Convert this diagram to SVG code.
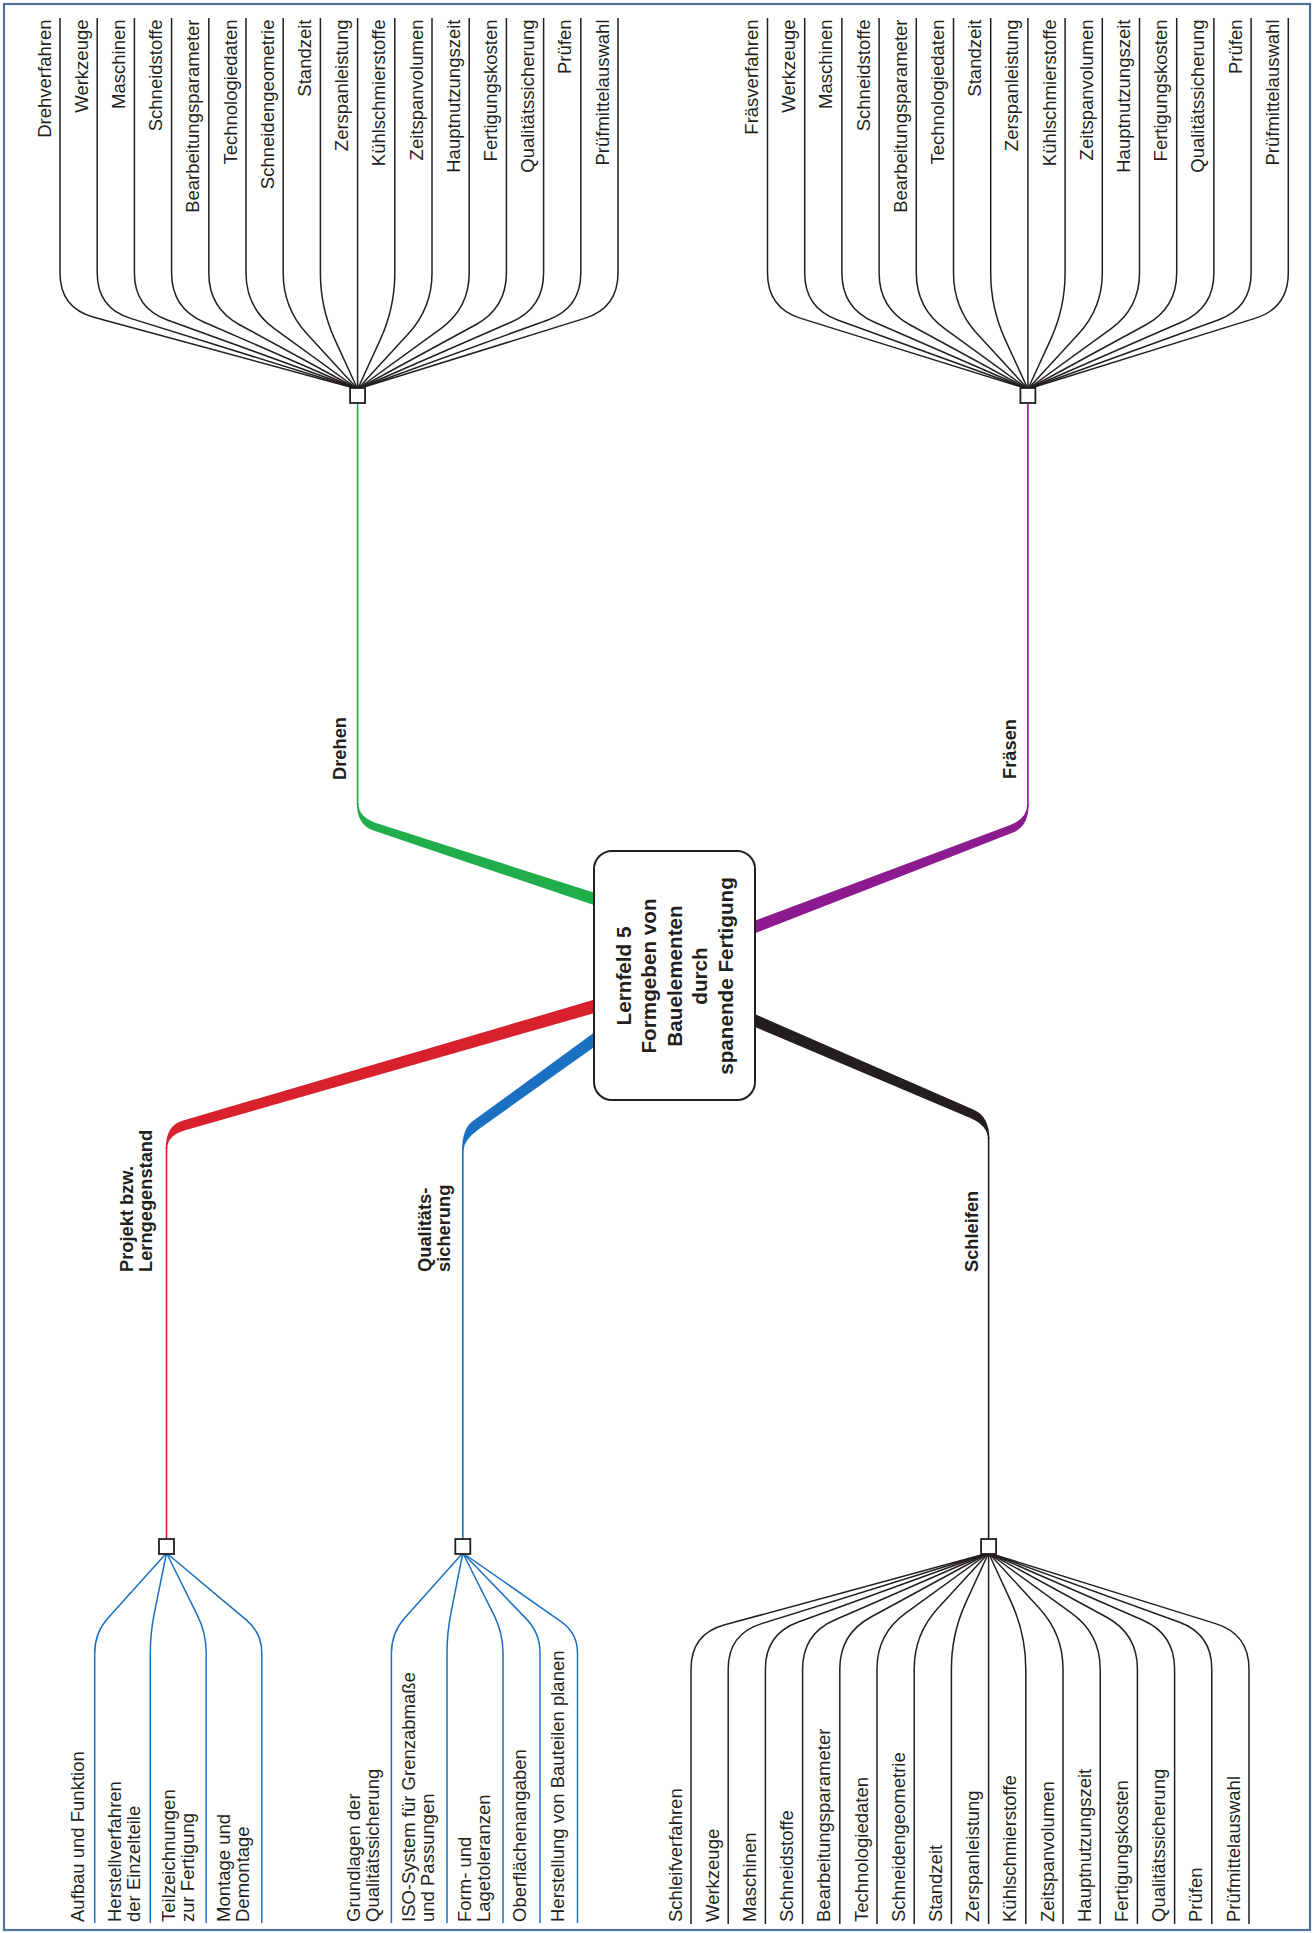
<svg xmlns="http://www.w3.org/2000/svg" width="1314" height="1933" viewBox="0 0 1314 1933">
<style>
.t{font-family:"Liberation Sans",Arial,Helvetica,sans-serif;font-size:18.5px;fill:#231f20}
.b{font-weight:bold;font-size:18.3px}
.c{font-family:"Liberation Sans",Arial,Helvetica,sans-serif;font-size:20.7px;font-weight:bold;fill:#231f20}
.ln{fill:none;stroke:#231f20;stroke-width:1.5}
.lb{fill:none;stroke:#1b70c1;stroke-width:1.5}
.hub{fill:#fff;stroke:#231f20;stroke-width:1.8}
</style>
<rect x="0" y="0" width="1314" height="1933" fill="#fff"/>
<rect x="4" y="4" width="1306" height="1926" fill="none" stroke="#50729a" stroke-width="2.2"/>
<g id="connectors">
  <g id="fan-drehen" class="ln">
    <path d="M60 18V273Q60 308 93.77 317.19L357.6 389"/>
    <path d="M97.2 18V273Q97.2 308 130.62 318.4L357.6 389"/>
    <path d="M134.4 18V273Q134.4 308 167.31 319.94L357.6 389"/>
    <path d="M171.6 18V273Q171.6 308 203.69 321.97L357.6 389"/>
    <path d="M208.8 18V273Q208.8 308 239.54 324.74L357.6 389"/>
    <path d="M246 18V273Q246 308 274.33 328.56L357.6 389"/>
    <path d="M283.2 18V273Q283.2 308 306.87 333.77L357.6 389"/>
    <path d="M320.4 18V273Q320.4 308 335.01 339.82L357.6 389"/>
    <path d="M357.6 18V389"/>
    <path d="M394.8 18V273Q394.8 308 380.19 339.82L357.6 389"/>
    <path d="M432 18V273Q432 308 408.33 333.77L357.6 389"/>
    <path d="M469.2 18V273Q469.2 308 440.87 328.56L357.6 389"/>
    <path d="M506.4 18V273Q506.4 308 475.66 324.74L357.6 389"/>
    <path d="M543.6 18V273Q543.6 308 511.51 321.97L357.6 389"/>
    <path d="M580.8 18V273Q580.8 308 547.89 319.94L357.6 389"/>
    <path d="M618 18V273Q618 308 584.58 318.4L357.6 389"/>
  </g>
  <g id="fan-fraesen" class="ln" transform="translate(670.3,0)">
    <path d="M97.2 18V273Q97.2 308 130.62 318.4L357.6 389"/>
    <path d="M134.4 18V273Q134.4 308 167.31 319.94L357.6 389"/>
    <path d="M171.6 18V273Q171.6 308 203.69 321.97L357.6 389"/>
    <path d="M208.8 18V273Q208.8 308 239.54 324.74L357.6 389"/>
    <path d="M246 18V273Q246 308 274.33 328.56L357.6 389"/>
    <path d="M283.2 18V273Q283.2 308 306.87 333.77L357.6 389"/>
    <path d="M320.4 18V273Q320.4 308 335.01 339.82L357.6 389"/>
    <path d="M357.6 18V389"/>
    <path d="M394.8 18V273Q394.8 308 380.19 339.82L357.6 389"/>
    <path d="M432 18V273Q432 308 408.33 333.77L357.6 389"/>
    <path d="M469.2 18V273Q469.2 308 440.87 328.56L357.6 389"/>
    <path d="M506.4 18V273Q506.4 308 475.66 324.74L357.6 389"/>
    <path d="M543.6 18V273Q543.6 308 511.51 321.97L357.6 389"/>
    <path d="M580.8 18V273Q580.8 308 547.89 319.94L357.6 389"/>
    <path d="M618 18V273Q618 308 584.58 318.4L357.6 389"/>
  </g>
  <g id="fan-schleifen" class="ln" transform="translate(631,1942) scale(1,-1)">
    <path d="M60 18V273Q60 308 93.77 317.19L357.6 389"/>
    <path d="M97.2 18V273Q97.2 308 130.62 318.4L357.6 389"/>
    <path d="M134.4 18V273Q134.4 308 167.31 319.94L357.6 389"/>
    <path d="M171.6 18V273Q171.6 308 203.69 321.97L357.6 389"/>
    <path d="M208.8 18V273Q208.8 308 239.54 324.74L357.6 389"/>
    <path d="M246 18V273Q246 308 274.33 328.56L357.6 389"/>
    <path d="M283.2 18V273Q283.2 308 306.87 333.77L357.6 389"/>
    <path d="M320.4 18V273Q320.4 308 335.01 339.82L357.6 389"/>
    <path d="M357.6 18V389"/>
    <path d="M394.8 18V273Q394.8 308 380.19 339.82L357.6 389"/>
    <path d="M432 18V273Q432 308 408.33 333.77L357.6 389"/>
    <path d="M469.2 18V273Q469.2 308 440.87 328.56L357.6 389"/>
    <path d="M506.4 18V273Q506.4 308 475.66 324.74L357.6 389"/>
    <path d="M543.6 18V273Q543.6 308 511.51 321.97L357.6 389"/>
    <path d="M580.8 18V273Q580.8 308 547.89 319.94L357.6 389"/>
    <path d="M618 18V273Q618 308 584.58 318.4L357.6 389"/>
  </g>
  <g id="fan-projekt" class="lb">
    <path d="M166.5 1553L108.06 1618.12Q94.7 1633 94.7 1653V1923"/>
    <path d="M166.5 1553L154.27 1613.4Q150.3 1633 150.3 1653V1923"/>
    <path d="M166.5 1553L197.31 1615.08Q206.2 1633 206.2 1653V1923"/>
    <path d="M166.5 1553L246.48 1620.14Q261.8 1633 261.8 1653V1923"/>
  </g>
  <g id="fan-qualitaet" class="lb">
    <path d="M462.8 1553L404.72 1618.08Q391.4 1633 391.4 1653V1923"/>
    <path d="M462.8 1553L450.88 1613.36Q447 1633 447 1653V1923"/>
    <path d="M462.8 1553L494.02 1615.12Q503 1633 503 1653V1923"/>
    <path d="M462.8 1553L526.12 1618.62Q540 1633 540 1653V1923"/>
    <path d="M462.8 1553L561.1 1621.56Q577.5 1633 577.5 1653V1923"/>
  </g>
  <g id="branch-drehen">
    <path fill="#1fae4b" d="M606.43 909.2L373.45 830.56Q356.85 825.11 356.85 803.1L358.35 803.1Q358.35 817.18 375.95 822.96L610.17 897.8Z"/>
    <path d="M357.6 805V403" fill="none" stroke="#1fae4b" stroke-width="1.6"/>
  </g>
  <g id="branch-fraesen">
    <path fill="#8c1b8f" d="M743.53 937.66L1012.51 832.76Q1028.65 826.59 1028.65 804.6L1027.15 804.6Q1027.15 818.6 1009.65 825.28L739.25 926.44Z"/>
    <path d="M1027.9 806V403" fill="none" stroke="#8c1b8f" stroke-width="1.6"/>
  </g>
  <g id="branch-projekt">
    <path fill="#d9202d" d="M606.6 996.08L182.4 1120.69Q165.75 1125.52 165.75 1148.5L167.25 1148.5Q167.25 1135.49 185.18 1130.29L610.22 1008.56Z"/>
    <path d="M166.5 1147V1539" fill="none" stroke="#d9202d" stroke-width="1.6"/>
  </g>
  <g id="branch-qualitaet">
    <path fill="#1b70c1" d="M602.66 1026.37L472.86 1121.05Q462.05 1128.83 462.05 1150.46L463.55 1150.46Q463.55 1140.08 478.7 1129.17L609.68 1036.11Z"/>
    <path d="M462.8 1149V1539" fill="none" stroke="#1b70c1" stroke-width="1.6"/>
  </g>
  <g id="branch-schleifen">
    <path fill="#231f20" d="M743.99 1009.36L973.84 1109.84Q989.35 1116.51 989.35 1139.08L987.85 1139.08Q987.85 1125.66 970.28 1118.1L739.25 1020.38Z"/>
    <path d="M988.6 1137V1539" fill="none" stroke="#231f20" stroke-width="1.6"/>
  </g>
</g>
<g id="center">
  <rect x="594" y="851" width="161" height="249" rx="18" fill="#fff" stroke="#231f20" stroke-width="2"/>
  <g class="c" text-anchor="middle">
    <text transform="translate(630.5,976) rotate(-90)">Lernfeld 5</text>
    <text transform="translate(656,976) rotate(-90)">Formgeben von</text>
    <text transform="translate(681.5,976) rotate(-90)">Bauelementen</text>
    <text transform="translate(707,976) rotate(-90)">durch</text>
    <text transform="translate(732.5,976) rotate(-90)">spanende Fertigung</text>
  </g>
</g>
<g id="hub-drehen"><rect class="hub" x="350.1" y="388" width="15" height="15"/><text class="t b" text-anchor="middle" transform="translate(346.1,748.5) rotate(-90)">Drehen</text></g>
<g id="hub-fraesen"><rect class="hub" x="1020.4" y="388" width="15" height="15"/><text class="t b" text-anchor="middle" transform="translate(1016,749) rotate(-90)">Fräsen</text></g>
<g id="hub-projekt"><rect class="hub" x="159" y="1539" width="15" height="15"/><text class="t b" transform="translate(133,1272) rotate(-90)">Projekt bzw.</text><text class="t b" transform="translate(151.5,1272) rotate(-90)">Lerngegenstand</text></g>
<g id="hub-qualitaet"><rect class="hub" x="455.3" y="1539" width="15" height="15"/><text class="t b" transform="translate(431,1272) rotate(-90)">Qualitäts-</text><text class="t b" transform="translate(449.5,1272) rotate(-90)">sicherung</text></g>
<g id="hub-schleifen"><rect class="hub" x="981.1" y="1539" width="15" height="15"/><text class="t b" transform="translate(978,1272) rotate(-90)">Schleifen</text></g>
<g class="t" text-anchor="end">
  <g id="d0"><text transform="translate(50.5,19.5) rotate(-90)">Drehverfahren</text></g>
  <g id="d1"><text transform="translate(87.7,19.5) rotate(-90)">Werkzeuge</text></g>
  <g id="d2"><text transform="translate(124.9,19.5) rotate(-90)">Maschinen</text></g>
  <g id="d3"><text transform="translate(162.1,19.5) rotate(-90)">Schneidstoffe</text></g>
  <g id="d4"><text transform="translate(199.3,19.5) rotate(-90)">Bearbeitungsparameter</text></g>
  <g id="d5"><text transform="translate(236.5,19.5) rotate(-90)">Technologiedaten</text></g>
  <g id="d6"><text transform="translate(273.7,19.5) rotate(-90)">Schneidengeometrie</text></g>
  <g id="d7"><text transform="translate(310.9,19.5) rotate(-90)">Standzeit</text></g>
  <g id="d8"><text transform="translate(348.1,19.5) rotate(-90)">Zerspanleistung</text></g>
  <g id="d9"><text transform="translate(385.3,19.5) rotate(-90)">Kühlschmierstoffe</text></g>
  <g id="d10"><text transform="translate(422.5,19.5) rotate(-90)">Zeitspanvolumen</text></g>
  <g id="d11"><text transform="translate(459.7,19.5) rotate(-90)">Hauptnutzungszeit</text></g>
  <g id="d12"><text transform="translate(496.9,19.5) rotate(-90)">Fertigungskosten</text></g>
  <g id="d13"><text transform="translate(534.1,19.5) rotate(-90)">Qualitätssicherung</text></g>
  <g id="d14"><text transform="translate(571.3,19.5) rotate(-90)">Prüfen</text></g>
  <g id="d15"><text transform="translate(608.5,19.5) rotate(-90)">Prüfmittelauswahl</text></g>
  <g id="f0"><text transform="translate(758,19.5) rotate(-90)">Fräsverfahren</text></g>
  <g id="f1"><text transform="translate(795.2,19.5) rotate(-90)">Werkzeuge</text></g>
  <g id="f2"><text transform="translate(832.4,19.5) rotate(-90)">Maschinen</text></g>
  <g id="f3"><text transform="translate(869.6,19.5) rotate(-90)">Schneidstoffe</text></g>
  <g id="f4"><text transform="translate(906.8,19.5) rotate(-90)">Bearbeitungsparameter</text></g>
  <g id="f5"><text transform="translate(944,19.5) rotate(-90)">Technologiedaten</text></g>
  <g id="f6"><text transform="translate(981.2,19.5) rotate(-90)">Standzeit</text></g>
  <g id="f7"><text transform="translate(1018.4,19.5) rotate(-90)">Zerspanleistung</text></g>
  <g id="f8"><text transform="translate(1055.6,19.5) rotate(-90)">Kühlschmierstoffe</text></g>
  <g id="f9"><text transform="translate(1092.8,19.5) rotate(-90)">Zeitspanvolumen</text></g>
  <g id="f10"><text transform="translate(1130,19.5) rotate(-90)">Hauptnutzungszeit</text></g>
  <g id="f11"><text transform="translate(1167.2,19.5) rotate(-90)">Fertigungskosten</text></g>
  <g id="f12"><text transform="translate(1204.4,19.5) rotate(-90)">Qualitätssicherung</text></g>
  <g id="f13"><text transform="translate(1241.6,19.5) rotate(-90)">Prüfen</text></g>
  <g id="f14"><text transform="translate(1278.8,19.5) rotate(-90)">Prüfmittelauswahl</text></g>
</g>
<g class="t">
  <g id="s0"><text transform="translate(681.5,1922) rotate(-90)">Schleifverfahren</text></g>
  <g id="s1"><text transform="translate(718.7,1922) rotate(-90)">Werkzeuge</text></g>
  <g id="s2"><text transform="translate(755.9,1922) rotate(-90)">Maschinen</text></g>
  <g id="s3"><text transform="translate(793.1,1922) rotate(-90)">Schneidstoffe</text></g>
  <g id="s4"><text transform="translate(830.3,1922) rotate(-90)">Bearbeitungsparameter</text></g>
  <g id="s5"><text transform="translate(867.5,1922) rotate(-90)">Technologiedaten</text></g>
  <g id="s6"><text transform="translate(904.7,1922) rotate(-90)">Schneidengeometrie</text></g>
  <g id="s7"><text transform="translate(941.9,1922) rotate(-90)">Standzeit</text></g>
  <g id="s8"><text transform="translate(979.1,1922) rotate(-90)">Zerspanleistung</text></g>
  <g id="s9"><text transform="translate(1016.3,1922) rotate(-90)">Kühlschmierstoffe</text></g>
  <g id="s10"><text transform="translate(1053.5,1922) rotate(-90)">Zeitspanvolumen</text></g>
  <g id="s11"><text transform="translate(1090.7,1922) rotate(-90)">Hauptnutzungszeit</text></g>
  <g id="s12"><text transform="translate(1127.9,1922) rotate(-90)">Fertigungskosten</text></g>
  <g id="s13"><text transform="translate(1165.1,1922) rotate(-90)">Qualitätssicherung</text></g>
  <g id="s14"><text transform="translate(1202.3,1922) rotate(-90)">Prüfen</text></g>
  <g id="s15"><text transform="translate(1239.5,1922) rotate(-90)">Prüfmittelauswahl</text></g>
  <g id="p0"><text transform="translate(84,1922) rotate(-90)">Aufbau und Funktion</text></g>
  <g id="p1"><text transform="translate(121,1922) rotate(-90)">Herstellverfahren</text><text transform="translate(140,1922) rotate(-90)">der Einzelteile</text></g>
  <g id="p2"><text transform="translate(174.5,1922) rotate(-90)">Teilzeichnungen</text><text transform="translate(193.5,1922) rotate(-90)">zur Fertigung</text></g>
  <g id="p3"><text transform="translate(229.5,1922) rotate(-90)">Montage und</text><text transform="translate(248.5,1922) rotate(-90)">Demontage</text></g>
  <g id="q0"><text transform="translate(360.3,1922) rotate(-90)">Grundlagen der</text><text transform="translate(379.3,1922) rotate(-90)">Qualitätssicherung</text></g>
  <g id="q1"><text transform="translate(415,1922) rotate(-90)">ISO-System für Grenzabmaße</text><text transform="translate(434,1922) rotate(-90)">und Passungen</text></g>
  <g id="q2"><text transform="translate(471,1922) rotate(-90)">Form- und</text><text transform="translate(490,1922) rotate(-90)">Lagetoleranzen</text></g>
  <g id="q3"><text transform="translate(526,1922) rotate(-90)">Oberflächenangaben</text></g>
  <g id="q4"><text transform="translate(564,1922) rotate(-90)">Herstellung von Bauteilen planen</text></g>
</g>
</svg>
